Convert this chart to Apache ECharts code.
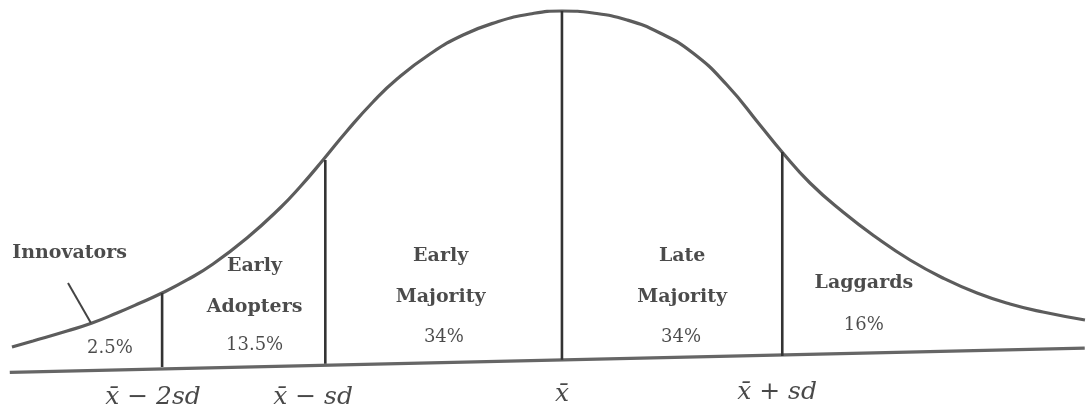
<!DOCTYPE html>
<html>
<head>
<meta charset="utf-8">
<script src="https://cdn.jsdelivr.net/npm/echarts@6/dist/echarts.min.js"></script>
<style>
html,body{margin:0;padding:0;background:#ffffff;}
#chart{width:1088px;height:408px;}
</style>
</head>
<body>
<div id="chart"></div>
<script>
// Position along the drawing (0-100, left to right) and height (0-100)
const curveX = [1.10, 3.03, 6.16, 8.46, 10.75, 12.87, 14.89, 17.19, 19.58, 22.70, 25.74, 27.57, 29.69, 31.89, 34.28, 36.49, 39.52, 42.56, 45.68, 48.71, 51.65, 54.50, 57.63, 60.66, 63.69, 66.82, 69.85, 71.88, 74.45, 77.48, 80.61, 83.64, 86.67, 89.80, 92.83, 95.86, 99.72];
const curveY = [8.68, 10.26, 12.89, 15.00, 17.63, 20.26, 22.89, 26.32, 30.53, 37.37, 45.26, 50.79, 57.89, 65.53, 73.16, 79.21, 85.79, 90.79, 94.21, 96.32, 97.11, 96.58, 94.74, 91.32, 86.05, 77.63, 67.11, 60.00, 51.84, 44.21, 37.37, 31.58, 26.84, 22.89, 20.00, 17.89, 15.79];

const baselineX = [0.9, 99.7];
const baselineY = [2.0, 8.4];

const boundaryX = [14.9, 29.9, 51.65, 71.9];
const boundaryBottom = [3.4, 4.3, 5.3, 6.3];
const boundaryTop = [22.9, 57.9, 97.1, 60.0];

const tickLabels = ['x\u0304 \u2212 2sd', 'x\u0304 \u2212 sd', 'x\u0304', 'x\u0304 + sd'];
const tickLabelX = [14.06, 28.77, 51.65, 71.42];
const tickLabelY = [-4.6, -4.6, -3.9, -3.4];

const segmentNames = ['Innovators', 'Early\nAdopters', 'Early\nMajority', 'Late\nMajority', 'Laggards'];
const segmentShares = ['2.5%', '13.5%', '34%', '34%', '16%'];
const nameAnchorX = [6.4, 23.4, 40.5, 62.7, 79.4];
const nameAnchorY = [33.4, 24.5, 27.1, 27.1, 25.5];
const shareAnchorX = [10.1, 23.4, 40.8, 62.6, 79.4];
const shareAnchorY = [8.4, 9.2, 11.3, 11.3, 14.5];

const pointerX = [6.25, 8.36];
const pointerY = [25.5, 15.0];

const chart = echarts.init(document.getElementById('chart'), null, {renderer: 'canvas'});

const series = [];
series.push({
  type: 'line', name: 'curve', smooth: 0.5, symbol: 'none', silent: true,
  data: curveX.map((x, i) => [x, curveY[i]]),
  lineStyle: {color: '#5c5c5c', width: 3.2}
});
series.push({
  type: 'line', name: 'baseline', symbol: 'none', silent: true,
  data: baselineX.map((x, i) => [x, baselineY[i]]),
  lineStyle: {color: '#666666', width: 3.4}
});
boundaryX.forEach((x, i) => {
  series.push({
    type: 'line', symbol: 'none', silent: true,
    data: [[x, boundaryBottom[i]], [x, boundaryTop[i]]],
    lineStyle: {color: '#333333', width: 2.6}
  });
});
series.push({
  type: 'line', symbol: 'none', silent: true,
  data: pointerX.map((x, i) => [x, pointerY[i]]),
  lineStyle: {color: '#444444', width: 2}
});
series.push({
  type: 'scatter', symbolSize: 1, silent: true,
  itemStyle: {color: 'transparent'},
  data: segmentNames.map((n, i) => ({value: [nameAnchorX[i], nameAnchorY[i]], name: n})),
  label: {
    show: true, position: 'inside', formatter: p => p.name,
    fontFamily: 'DejaVu Serif', fontWeight: 'bold', fontSize: 19,
    lineHeight: 41, color: '#1e1e1e', align: 'center', verticalAlign: 'middle'
  }
});
series.push({
  type: 'scatter', symbolSize: 1, silent: true,
  itemStyle: {color: 'transparent'},
  data: segmentShares.map((n, i) => ({value: [shareAnchorX[i], shareAnchorY[i]], name: n})),
  label: {
    show: true, position: 'inside', formatter: p => p.name,
    fontFamily: 'DejaVu Serif', fontSize: 18,
    color: '#1e1e1e', align: 'center', verticalAlign: 'middle'
  }
});
series.push({
  type: 'scatter', symbolSize: 1, silent: true, clip: false,
  itemStyle: {color: 'transparent'},
  data: tickLabels.map((n, i) => ({value: [tickLabelX[i], tickLabelY[i]], name: n})),
  label: {
    show: true, position: 'inside', formatter: p => p.name,
    fontFamily: 'DejaVu Serif', fontStyle: 'italic', fontSize: 25,
    color: '#1a1a1a', align: 'center', verticalAlign: 'middle'
  }
});

chart.setOption({
  backgroundColor: '#ffffff',
  animation: false,
  grid: {left: 0, right: 0, top: 0, bottom: 28},
  xAxis: {type: 'value', min: 0, max: 100, show: false},
  yAxis: {type: 'value', min: 0, max: 100, show: false},
  series: series
});
</script>
</body>
</html>
